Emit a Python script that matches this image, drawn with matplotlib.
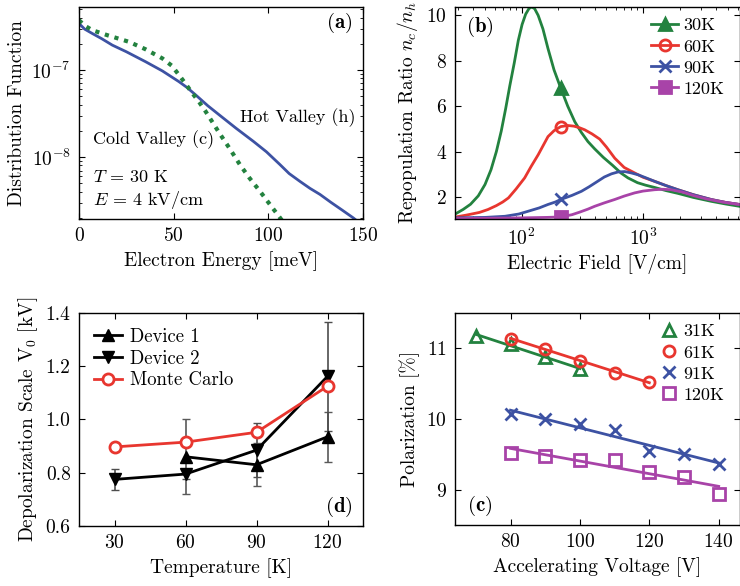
import numpy as np
import matplotlib
matplotlib.use("Agg")
import matplotlib.pyplot as plt

plt.rcParams['font.family'] = 'serif'
plt.rcParams['font.serif'] = ['cmr10', 'DejaVu Serif']
plt.rcParams['mathtext.fontset'] = 'cm'
plt.rcParams['axes.formatter.use_mathtext'] = True
plt.rcParams['font.size'] = 14
plt.rcParams['axes.unicode_minus'] = False

# ---- datos panel (a): funcion de distribucion a 30 K, 4 kV/cm (exponentes log10)
energia_hot = [0, 3, 7, 12, 17.6, 25, 35.2, 44, 52.8, 57, 61.6, 68, 74.6, 83, 92.1, 99,
               106.2, 111, 116.7, 122, 127.3, 133, 139, 144.9, 150]
log_dist_hot = [-6.465, -6.53, -6.58, -6.64, -6.714, -6.79, -6.905, -7.01, -7.134, -7.2, -7.286,
                -7.41, -7.525, -7.67, -7.82, -7.94, -8.088, -8.19, -8.28, -8.36, -8.43, -8.52,
                -8.61, -8.70, -8.79]
energia_cold = [0, 3, 7, 15, 26.4, 35, 44, 49, 52.8, 56, 59.9, 63.5, 66.9, 70.5, 74, 79.5,
                85, 90, 95.6, 101, 106.2, 112]
log_dist_cold = [-6.427, -6.49, -6.542, -6.6, -6.676, -6.76, -6.866, -6.95, -7.057, -7.15,
                 -7.267, -7.37, -7.477, -7.6, -7.72, -7.9, -8.088, -8.24, -8.394, -8.55,
                 -8.699, -8.87]

# ---- datos panel (b): razon de repoblacion vs campo electrico
campo_30 = [28, 33, 38, 44, 50, 56, 62, 68, 74, 80, 87, 94, 101, 108, 115, 121, 128, 137, 150,
            165, 185, 210, 240, 274, 310, 352, 400, 470, 560, 660, 752, 900, 1050, 1245, 1550,
            1936, 2600, 3640, 4800, 6230]
ratio_30 = [1.23, 1.45, 1.68, 2.05, 2.55, 3.2, 4.0, 4.9, 5.9, 6.9, 7.9, 8.9, 9.6, 10.05, 10.3,
            10.37, 10.3, 10.0, 9.4, 8.54, 7.6, 6.8, 6.0, 5.32, 4.85, 4.44, 4.12, 3.75, 3.4, 3.05,
            2.84, 2.63, 2.52, 2.42, 2.28, 2.16, 1.98, 1.81, 1.69, 1.59]
campo_60 = [28, 35, 45, 53, 62, 70, 78, 90, 106, 120, 137, 150, 165, 185, 210, 240, 270, 300,
            331, 380, 440, 500, 585, 700, 853, 1000, 1245, 1550, 1936, 2600, 3640, 4800, 6230]
ratio_60 = [1.11, 1.2, 1.32, 1.45, 1.62, 1.78, 1.96, 2.35, 2.84, 3.35, 3.86, 4.25, 4.66, 4.92,
            5.10, 5.15, 5.12, 5.05, 4.96, 4.78, 4.55, 4.2, 3.71, 3.3, 3.06, 2.87, 2.69, 2.5,
            2.32, 2.1, 1.89, 1.76, 1.67]
campo_90 = [28, 50, 73, 95, 113, 140, 165, 190, 210, 260, 311, 360, 420, 480, 550, 620, 706,
            800, 908, 1050, 1245, 1550, 1936, 2600, 3640, 4800, 6230]
ratio_90 = [1.08, 1.1, 1.15, 1.25, 1.37, 1.52, 1.67, 1.78, 1.89, 2.07, 2.25, 2.45, 2.68, 2.88,
            3.02, 3.1, 3.12, 3.06, 2.98, 2.85, 2.69, 2.5, 2.32, 2.1, 1.89, 1.76, 1.67]
campo_120 = [28, 100, 160, 210, 260, 300, 350, 400, 480, 585, 700, 853, 1000, 1245, 1450, 1700,
             2100, 2650, 3300, 4500, 6230]
ratio_120 = [1.05, 1.08, 1.1, 1.12, 1.22, 1.33, 1.46, 1.59, 1.74, 1.89, 2.04, 2.18, 2.26, 2.32,
             2.34, 2.32, 2.22, 2.05, 1.92, 1.78, 1.67]
campo_marca = 210  # campo donde va el marcador de cada curva

# ---- datos panel (d): escala de depolarizacion
temp_dev1 = [60, 90, 120]
v0_dev1 = [0.86, 0.83, 0.935]
err_dev1 = [0.14, 0.08, 0.095]
temp_dev2 = [30, 60, 90, 120]
v0_dev2 = [0.775, 0.795, 0.885, 1.162]
err_dev2 = [0.04, 0.02, 0.10, 0.205]
temp_mc = [30, 60, 90, 120]
v0_mc = [0.897, 0.915, 0.952, 1.125]

# ---- datos panel (c): polarizacion vs voltaje
volt_31 = [70, 80, 90, 100]
pol_31 = [11.17, 11.06, 10.87, 10.70]
volt_61 = [80, 90, 100, 110, 120]
pol_61 = [11.13, 10.99, 10.82, 10.65, 10.52]
volt_91 = [80, 90, 100, 110, 120, 130, 140]
pol_91 = [10.07, 10.0, 9.93, 9.84, 9.55, 9.51, 9.37]
volt_120 = [80, 90, 100, 110, 120, 130, 140]
pol_120 = [9.52, 9.48, 9.43, 9.42, 9.26, 9.19, 8.94]

VERDE = '#23823f'
ROJO = '#e8362f'
AZUL = '#3d52a3'
MORADO = '#a843a8'

W, H = 740, 586
fig = plt.figure(figsize=(W / 100, H / 100), dpi=100)


def caja(x0, y0, x1, y1):
    # convierte pixeles (izq, arriba, der, abajo) a fraccion de figura
    return [x0 / W, 1 - y1 / H, (x1 - x0) / W, (y1 - y0) / H]


def estilo(ax):
    ax.tick_params(which='both', direction='in', top=True, right=True)
    ax.tick_params(which='major', length=4, width=0.8, pad=6)
    ax.tick_params(which='minor', length=2, width=0.6)
    for s in ax.spines.values():
        s.set_linewidth(1.0)


# ---------------- (a)
ax_a = fig.add_axes(caja(79, 7, 363, 219))
ax_a.semilogy(energia_hot, 10.0 ** np.array(log_dist_hot), color=AZUL, lw=2)
ax_a.semilogy(energia_cold, 10.0 ** np.array(log_dist_cold), color=VERDE, lw=3,
              linestyle=(0, (1, 1.4)))
ax_a.set_xlim(0, 150)
ax_a.set_ylim(1.94e-9, 5.3e-7)
ax_a.set_xticks([0, 50, 100, 150])
ax_a.set_xlabel("Electron Energy [meV]")
ax_a.set_ylabel("Distribution Function")
ax_a.text(0.972, 0.476, "Hot Valley (h)", transform=ax_a.transAxes, va='center', ha='right', fontsize=13)
ax_a.text(0.049, 0.373, "Cold Valley (c)", transform=ax_a.transAxes, va='center', ha='left', fontsize=13)
ax_a.text(0.049, 0.198, r"$T$ = 30 K", transform=ax_a.transAxes, va='center', ha='left', fontsize=13)
ax_a.text(0.049, 0.09, r"$E$ = 4 kV/cm", transform=ax_a.transAxes, va='center', ha='left', fontsize=13)
ax_a.text(0.962, 0.925, r"$\mathbf{(a)}$", transform=ax_a.transAxes, va='center', ha='right', fontsize=15)
estilo(ax_a)

# ---------------- (b)
ax_b = fig.add_axes(caja(455, 7, 739.5, 219))
curvas_b = [
    (campo_30, ratio_30, VERDE, '^', '30K'),
    (campo_60, ratio_60, ROJO, 'o', '60K'),
    (campo_90, ratio_90, AZUL, 'x', '90K'),
    (campo_120, ratio_120, MORADO, 's', '120K'),
]
for campo, ratio, color, marca, etiqueta in curvas_b:
    idx = int(np.argmin(np.abs(np.log(campo) - np.log(campo_marca))))
    ax_b.semilogx(campo, ratio, color=color, lw=2, marker=marca, markevery=[idx],
                  ms=8, mew=2, mfc='none' if marca == 'o' else color, label=etiqueta)
ax_b.set_xlim(28.3, 6230)
ax_b.set_ylim(1.03, 10.37)
ax_b.set_yticks([2, 4, 6, 8, 10])
ax_b.set_xlabel("Electric Field [V/cm]")
ax_b.set_ylabel(r"Repopulation Ratio $n_c/n_h$")
ax_b.text(0.04, 0.906, r"$\mathbf{(b)}$", transform=ax_b.transAxes, va='center', ha='left', fontsize=15)
ax_b.legend(loc='upper right', frameon=False, handlelength=1.5, handletextpad=0.3,
            labelspacing=0.3, borderaxespad=0.2, bbox_to_anchor=(0.985, 1.0), fontsize=13)
estilo(ax_b)

# ---------------- (d)
ax_d = fig.add_axes(caja(79, 313, 363, 526))
ax_d.errorbar(temp_dev1, v0_dev1, yerr=err_dev1, fmt='none', ecolor='0.35', elinewidth=1.2, capsize=3)
ax_d.errorbar(temp_dev2, v0_dev2, yerr=err_dev2, fmt='none', ecolor='0.3', elinewidth=1.2, capsize=3)
ax_d.plot(temp_dev1, v0_dev1, color='black', lw=2, marker='^', ms=8, label='Device 1')
ax_d.plot(temp_dev2, v0_dev2, color='black', lw=2, marker='v', ms=8, label='Device 2')
ax_d.plot(temp_mc, v0_mc, color=ROJO, lw=2, marker='o', ms=8, mew=2, mfc='white', label='Monte Carlo')
ax_d.set_xlim(15, 135)
ax_d.set_ylim(0.6, 1.4)
ax_d.set_xticks([30, 60, 90, 120])
ax_d.set_yticks([0.6, 0.8, 1.0, 1.2, 1.4])
ax_d.yaxis.set_major_formatter(matplotlib.ticker.FormatStrFormatter('%.1f'))
ax_d.set_xlabel("Temperature [K]")
ax_d.set_ylabel(r"Depolarization Scale V$_0$ [kV]")
ax_d.text(0.962, 0.09, r"$\mathbf{(d)}$", transform=ax_d.transAxes, va='center', ha='right', fontsize=15)
ax_d.legend(loc='upper left', frameon=False, handlelength=1.5, handletextpad=0.4,
            labelspacing=0.2, borderaxespad=0.4, fontsize=13.5)
estilo(ax_d)

# ---------------- (c)
ax_c = fig.add_axes(caja(455, 313, 739.5, 525))
series_c = [
    (volt_31, pol_31, VERDE, '^', '31K'),
    (volt_61, pol_61, ROJO, 'o', '61K'),
    (volt_91, pol_91, AZUL, 'x', '91K'),
    (volt_120, pol_120, MORADO, 's', '120K'),
]
for volt, pol, color, marca, etiqueta in series_c:
    volt = np.array(volt)
    m, b = np.polyfit(volt, pol, 1)
    ax_c.plot(volt, m * volt + b, color=color, lw=2)
    ax_c.plot(volt, pol, linestyle='none', marker=marca, ms=8, mew=2, mec=color,
              mfc='none', label=etiqueta)
ax_c.set_xlim(64, 146)
ax_c.set_ylim(8.51, 11.49)
ax_c.set_xticks([80, 100, 120, 140])
ax_c.set_yticks([9, 10, 11])
ax_c.set_xlabel("Accelerating Voltage [V]")
ax_c.set_ylabel("Polarization [%]")
ax_c.text(0.042, 0.09, r"$\mathbf{(c)}$", transform=ax_c.transAxes, va='center', ha='left', fontsize=15)
ax_c.legend(loc='upper right', frameon=False, handlelength=0.8, handletextpad=0.4,
            labelspacing=0.3, borderaxespad=0.2, bbox_to_anchor=(0.985, 1.0), fontsize=13)
estilo(ax_c)

fig.savefig("out.png", dpi=100)
